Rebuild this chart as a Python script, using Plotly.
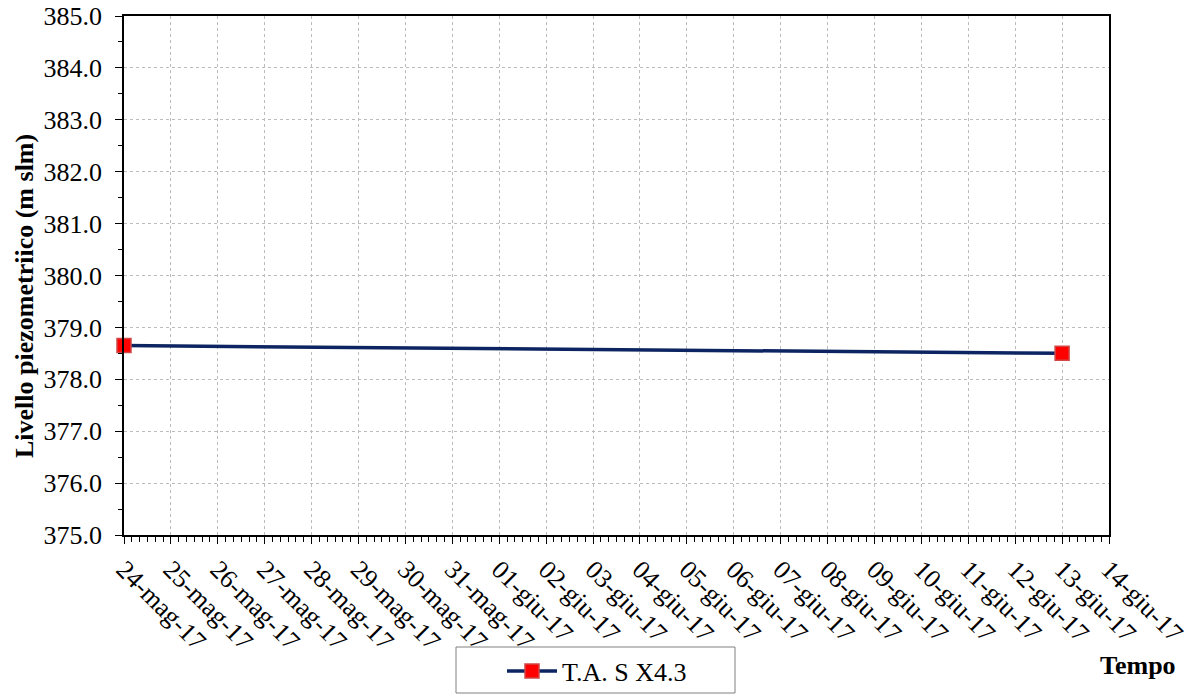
import plotly.graph_objects as go

# data
dates = ["2017-05-24", "2017-06-13"]
livello = [378.65, 378.50]
serie = "T.A. S X4.3"

tick_dates = ["2017-05-24", "2017-05-25", "2017-05-26", "2017-05-27", "2017-05-28",
              "2017-05-29", "2017-05-30", "2017-05-31", "2017-06-01", "2017-06-02",
              "2017-06-03", "2017-06-04", "2017-06-05", "2017-06-06", "2017-06-07",
              "2017-06-08", "2017-06-09", "2017-06-10", "2017-06-11", "2017-06-12",
              "2017-06-13", "2017-06-14"]
tick_labels = ["24-mag-17", "25-mag-17", "26-mag-17", "27-mag-17", "28-mag-17",
               "29-mag-17", "30-mag-17", "31-mag-17", "01-giu-17", "02-giu-17",
               "03-giu-17", "04-giu-17", "05-giu-17", "06-giu-17", "07-giu-17",
               "08-giu-17", "09-giu-17", "10-giu-17", "11-giu-17", "12-giu-17",
               "13-giu-17", "14-giu-17"]

FONT = "Liberation Serif"
W, H = 1197, 695
L, R, T, B = 124, 88, 16, 160
pw, ph = W - L - R, H - T - B

fig = go.Figure()
fig.add_trace(go.Scatter(x=dates, y=livello, name=serie, mode='lines+markers',
                         line=dict(color='#0c2461', width=3.5), cliponaxis=False,
                         marker=dict(symbol='square', size=14, color='#ff0000',
                                     line=dict(color='#d04848', width=1.5))))

# legend frame (Excel style box under the chart)
fig.add_shape(type='rect', xref='paper', yref='paper',
              x0=(456 - L) / pw, x1=(735 - L) / pw,
              y0=(T + ph - 693) / ph, y1=(T + ph - 647) / ph,
              line=dict(color='#808080', width=1), fillcolor='white', layer='below')

fig.update_layout(width=W, height=H, template='plotly_white',
                  plot_bgcolor='white', paper_bgcolor='white',
                  font=dict(family=FONT, size=26, color='black'),
                  margin=dict(l=L, r=R, t=T, b=B, autoexpand=False),
                  showlegend=True,
                  legend=dict(xref='container', yref='container',
                              x=502 / W, xanchor='left',
                              y=1 - 671 / H, yanchor='middle',
                              orientation='h', borderwidth=0,
                              bgcolor='rgba(0,0,0,0)', font=dict(family=FONT, size=26),
                              itemwidth=50),
                  annotations=[dict(text='<b>Tempo</b>', xref='paper', yref='paper',
                                    x=(1138 - L) / pw, y=(T + ph - 665) / ph,
                                    xanchor='center', yanchor='middle',
                                    showarrow=False, font=dict(family=FONT, size=26)),
                               dict(text='<b>Livello piezometriico (m slm)</b>',
                                    xref='paper', yref='paper', textangle=-90,
                                    x=(24 - L) / pw, y=(T + ph - 296) / ph,
                                    xanchor='center', yanchor='middle',
                                    showarrow=False, font=dict(family=FONT, size=26))])

fig.update_xaxes(type='date', range=["2017-05-24", "2017-06-14"], automargin=False,
                 tickvals=tick_dates, ticktext=tick_labels, tickangle=45,
                 tickfont=dict(family=FONT, size=26),
                 showline=True, linecolor='black', linewidth=1.5, mirror=True,
                 ticks='outside', ticklen=7, tickcolor='black', tickwidth=1,
                 showgrid=True, gridcolor='#bcbcbc', griddash='dot', gridwidth=1,
                 zeroline=False,
                 minor=dict(dtick=4 * 3600 * 1000, ticks='outside', ticklen=5,
                            tickcolor='black', showgrid=False))
fig.update_yaxes(range=[375, 385], dtick=1, tickformat='.1f', automargin=False,
                 tickfont=dict(family=FONT, size=26), ticklabelstandoff=8,
                 showline=True, linecolor='black', linewidth=1.5, mirror=True,
                 ticks='outside', ticklen=7, tickcolor='black', tickwidth=1,
                 showgrid=True, gridcolor='#bcbcbc', griddash='dot', gridwidth=1,
                 zeroline=False,
                 minor=dict(dtick=0.5, ticks='outside', ticklen=4,
                            tickcolor='black', showgrid=False))

fig.write_html("out.html", config={'displayModeBar': False},
               post_script="document.body.style.margin='0';")
